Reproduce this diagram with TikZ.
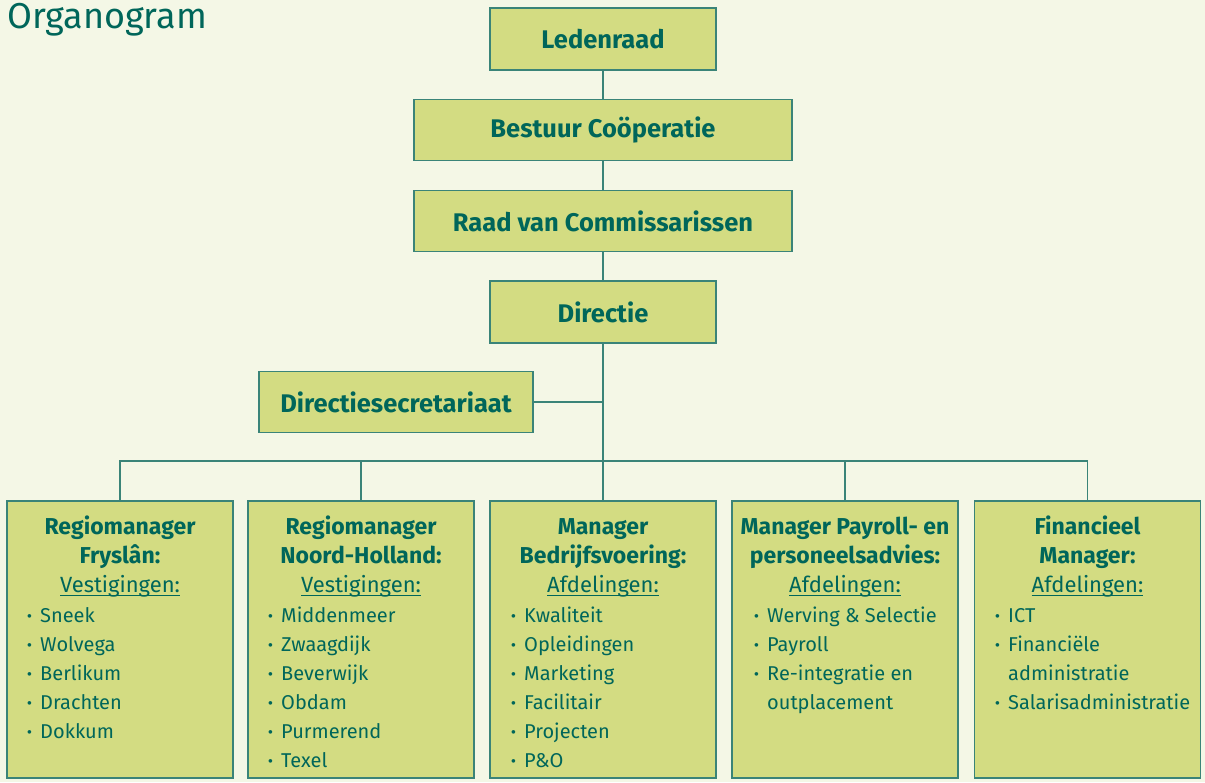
\documentclass[tikz,border=0pt]{standalone}
\usepackage{fontspec}
\setmainfont{Fira Sans}
\definecolor{bg}{HTML}{F4F7E6}
\definecolor{boxfill}{HTML}{D3DC82}
\definecolor{edge}{HTML}{3A8478}
\definecolor{txt}{HTML}{00665A}
\newcommand\myul[1]{\setbox0\hbox{#1}\rlap{\rule[-3.5pt]{\wd0}{1pt}}\box0}
\newcommand\bul{\makebox[13pt][l]{\textbf{·}}}
\begin{document}
\begin{tikzpicture}[x=1pt,y=-1pt,
  topbox/.style={draw=edge, line width=1.4pt, fill=boxfill, inner sep=0pt, text=txt,
    font=\bfseries\fontsize{25.5}{30}\selectfont},
  botbox/.style={draw=edge, line width=1.4pt, fill=boxfill, inner sep=0pt,
    minimum width=226pt, minimum height=277pt},
  conn/.style={draw=edge, line width=1.4pt},
  head/.style={text=txt, font=\bfseries\fontsize{23}{27}\selectfont, anchor=base, inner sep=0pt},
  sub/.style={text=txt, font=\fontsize{22}{26}\selectfont, anchor=base, inner sep=0pt},
  item/.style={text=txt, font=\fontsize{20}{24}\selectfont, anchor=base west, inner sep=0pt}]
\useasboundingbox (0,0) rectangle (1205,782);
\fill[bg] (0,0) rectangle (1205,782);

\node[text=txt, font=\fontsize{36}{42}\selectfont, anchor=base west, inner sep=0pt] (title) at (7,28) {Organogram};

% top chain
\node[topbox, minimum width=226pt, minimum height=62pt] (led) at (603,39) {Ledenraad};
\node[topbox, minimum width=378pt, minimum height=61pt] (bes) at (603,130) {Bestuur Coöperatie};
\node[topbox, minimum width=378pt, minimum height=61pt] (raad) at (603,221) {Raad van Commissarissen};
\node[topbox, minimum width=226pt, minimum height=62pt] (dir) at (603,312) {Directie};
\node[topbox, minimum width=274pt, minimum height=61pt] (sec) at (396,402) {Directiesecretariaat};

% bottom boxes
\node[botbox] (b1) at (120,639.5) {};
\node[botbox] (b2) at (361,639.5) {};
\node[botbox] (b3) at (603,639.5) {};
\node[botbox] (b4) at (845,639.5) {};
\node[botbox] (b5) at (1087.5,639.5) {};

% connectors
\coordinate (bus) at (603,461);
\draw[conn] (led) -- (bes);
\draw[conn] (bes) -- (raad);
\draw[conn] (raad) -- (dir);
\draw[conn] (dir) -- (b3);
\draw[conn] (sec.east) -- (sec.east -| dir.south);
\draw[conn] (b1.north) -- (b1.north |- bus) -- (b5.north |- bus) -- (b5.north);
\draw[conn] (b2.north) -- (b2.north |- bus);
\draw[conn] (b4.north) -- (b4.north |- bus);

% box 1
\node[head] (h1a) at (120,534) {Regiomanager};
\node[head] (h1b) at (120,563) {Fryslân:};
\node[sub] (h1c) at (120,592) {\myul{Vestigingen:}};
\node[item] (i1a) at (27,622) {\bul Sneek};
\node[item] (i1b) at (27,651) {\bul Wolvega};
\node[item] (i1c) at (27,680) {\bul Berlikum};
\node[item] (i1d) at (27,709) {\bul Drachten};
\node[item] (i1e) at (27,738) {\bul Dokkum};

% box 2
\node[head] (h2a) at (361,534) {Regiomanager};
\node[head] (h2b) at (361,563) {Noord-Holland:};
\node[sub] (h2c) at (361,592) {\myul{Vestigingen:}};
\node[item] (i2a) at (268,622) {\bul Middenmeer};
\node[item] (i2b) at (268,651) {\bul Zwaagdijk};
\node[item] (i2c) at (268,680) {\bul Beverwijk};
\node[item] (i2d) at (268,709) {\bul Obdam};
\node[item] (i2e) at (268,738) {\bul Purmerend};
\node[item] (i2f) at (268,767) {\bul Texel};

% box 3
\node[head] (h3a) at (603,534) {Manager};
\node[head] (h3b) at (603,563) {Bedrijfsvoering:};
\node[sub] (h3c) at (603,592) {\myul{Afdelingen:}};
\node[item] (i3a) at (511,622) {\bul Kwaliteit};
\node[item] (i3b) at (511,651) {\bul Opleidingen};
\node[item] (i3c) at (511,680) {\bul Marketing};
\node[item] (i3d) at (511,709) {\bul Facilitair};
\node[item] (i3e) at (511,738) {\bul Projecten};
\node[item] (i3f) at (511,767) {\bul P\&O};

% box 4
\node[head] (h4a) at (845,534) {Manager Payroll- en};
\node[head] (h4b) at (845,563) {personeelsadvies:};
\node[sub] (h4c) at (845,592) {\myul{Afdelingen:}};
\node[item] (i4a) at (754,622) {\bul Werving \& Selectie};
\node[item] (i4b) at (754,651) {\bul Payroll};
\node[item] (i4c) at (754,680) {\bul Re-integratie en};
\node[item] (i4d) at (767,709) {outplacement};

% box 5
\node[head] (h5a) at (1087.5,534) {Financieel};
\node[head] (h5b) at (1087.5,563) {Manager:};
\node[sub] (h5c) at (1087.5,592) {\myul{Afdelingen:}};
\node[item] (i5a) at (995,622) {\bul ICT};
\node[item] (i5b) at (995,651) {\bul Financiële};
\node[item] (i5c) at (1008,680) {administratie};
\node[item] (i5d) at (995,709) {\bul Salarisadministratie};
\end{tikzpicture}
\end{document}
